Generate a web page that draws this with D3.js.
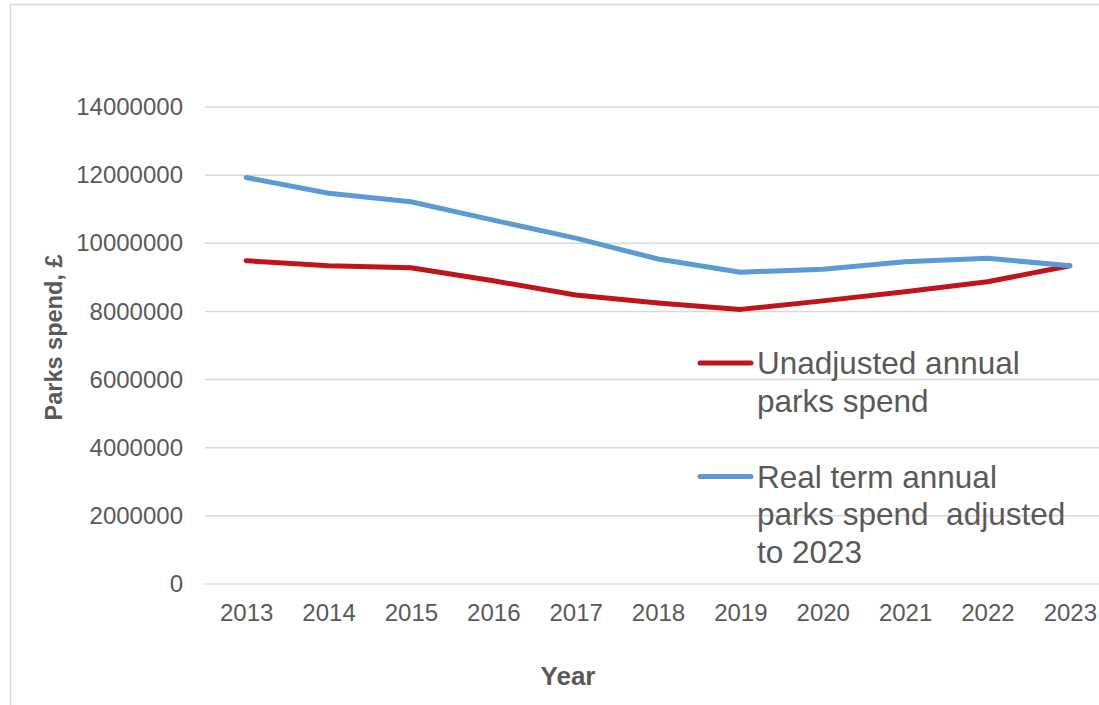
<!DOCTYPE html>
<html>
<head>
<meta charset="utf-8">
<script src="https://cdn.jsdelivr.net/npm/d3@7"></script>
<style>
  body { margin: 0; background: #fff; }
  svg { display: block; font-family: "Liberation Sans", Arial, sans-serif; }
</style>
</head>
<body>
<svg id="chart" width="1099" height="705"></svg>
<script>
// Chart data
const years = ['2013', '2014', '2015', '2016', '2017', '2018', '2019', '2020', '2021', '2022', '2023'];
const unadjusted = [9490000, 9340000, 9280000, 8900000, 8480000, 8250000, 8060000, 8310000, 8580000, 8870000, 9340000];
const realTerm = [11930000, 11470000, 11220000, 10680000, 10150000, 9540000, 9150000, 9240000, 9460000, 9560000, 9340000];
const yTicks = [0, 2000000, 4000000, 6000000, 8000000, 10000000, 12000000, 14000000];

const series = [
  { name: ['Unadjusted annual', 'parks spend'], values: unadjusted, color: '#C0141C' },
  { name: ['Real term annual', 'parks spend  adjusted', 'to 2023'], values: realTerm, color: '#5B9BD5' }
];

const svg = d3.select('#chart');

// outer frame (right and bottom edges fall outside the picture)
svg.append('rect')
  .attr('x', 10.5).attr('y', 4.5)
  .attr('width', 1200).attr('height', 800)
  .attr('fill', 'none')
  .attr('stroke', '#D9D9D9')
  .attr('stroke-width', 1.5);

// plot area
const plotLeft = 205, plotRight = 1111, plotTop = 107, plotBottom = 584;

const x = d3.scalePoint()
  .domain(years)
  .range([plotLeft, plotRight])
  .padding(0.5);

const y = d3.scaleLinear()
  .domain([0, 14000000])
  .range([plotBottom, plotTop]);

// gridlines
svg.append('g')
  .selectAll('line')
  .data(yTicks)
  .enter().append('line')
  .attr('x1', plotLeft).attr('x2', plotRight)
  .attr('y1', d => y(d)).attr('y2', d => y(d))
  .attr('stroke', '#D9D9D9')
  .attr('stroke-width', 1.5);

// y axis labels
const yAxis = svg.append('g')
  .attr('transform', `translate(${plotLeft - 22},0)`)
  .call(d3.axisLeft(y).tickValues(yTicks).tickSize(0).tickPadding(0).tickFormat(d3.format('d')));
yAxis.select('.domain').remove();
yAxis.selectAll('text')
  .attr('font-size', 24)
  .attr('font-family', '"Liberation Sans", Arial, sans-serif')
  .attr('fill', '#595959');

// x axis labels
const xAxis = svg.append('g')
  .attr('transform', `translate(0,${plotBottom})`)
  .call(d3.axisBottom(x).tickSize(0).tickPadding(20));
xAxis.select('.domain').remove();
xAxis.selectAll('text')
  .attr('font-size', 24)
  .attr('font-family', '"Liberation Sans", Arial, sans-serif')
  .attr('fill', '#595959');

// axis titles
svg.append('text')
  .attr('transform', 'translate(61.5,337.5) rotate(-90)')
  .attr('text-anchor', 'middle')
  .attr('font-size', 23.5)
  .attr('font-weight', 'bold')
  .attr('fill', '#595959')
  .text('Parks spend, £');

svg.append('text')
  .attr('x', 568)
  .attr('y', 685)
  .attr('text-anchor', 'middle')
  .attr('font-size', 26)
  .attr('font-weight', 'bold')
  .attr('fill', '#595959')
  .text('Year');

// lines
const line = d3.line()
  .x((d, i) => x(years[i]))
  .y(d => y(d));

svg.append('g')
  .selectAll('path')
  .data(series)
  .enter().append('path')
  .attr('fill', 'none')
  .attr('stroke', d => d.color)
  .attr('stroke-width', 5)
  .attr('stroke-linejoin', 'round')
  .attr('stroke-linecap', 'round')
  .attr('d', d => line(d.values));

// legend
const legendY = [363, 476.5];
const legend = svg.append('g')
  .selectAll('g')
  .data(series)
  .enter().append('g')
  .attr('transform', (d, i) => `translate(0,${legendY[i]})`);

legend.append('line')
  .attr('x1', 700).attr('x2', 751)
  .attr('y1', 0).attr('y2', 0)
  .attr('stroke', d => d.color)
  .attr('stroke-width', 5)
  .attr('stroke-linecap', 'round');

legend.append('text')
  .attr('x', 757)
  .attr('y', 11)
  .attr('font-size', 31.5)
  .attr('fill', '#595959')
  .selectAll('tspan')
  .data(d => d.name)
  .enter().append('tspan')
  .attr('x', 757)
  .attr('dy', (d, i) => i === 0 ? 0 : 37.5)
  .attr('xml:space', 'preserve')
  .style('white-space', 'pre')
  .text(d => d);
</script>
</body>
</html>
